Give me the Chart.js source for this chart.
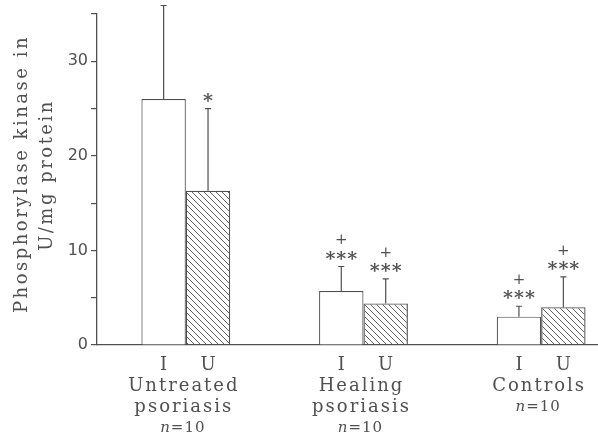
<!DOCTYPE html>
<html>
<head>
<meta charset="utf-8">
<script src="https://cdn.jsdelivr.net/npm/chart.js@4.4.1/dist/chart.umd.min.js"></script>
<style>
  html, body { margin: 0; padding: 0; background: #fff; }
  #wrap { width: 598px; height: 438px; }
</style>
</head>
<body>
<div id="wrap"><canvas id="chart"></canvas></div>
<script>
// groups along the x axis, two bars each (I and U)
const groups = [['Untreated', 'psoriasis'], ['Healing', 'psoriasis'], ['Controls']];
const groupN = [10, 10, 10];
const barLabels = ['I', 'U'];

// phosphorylase kinase, U/mg protein (mean + upper SD)
const valuesI = [26.0, 5.7, 3.0];
const valuesU = [16.3, 4.4, 4.0];
const errorI = [9.9, 2.6, 1.1];
const errorU = [8.7, 2.6, 3.2];

// significance marks above the error bars
const starsI = ['', '***', '***'];
const starsU = ['*', '***', '***'];
const plusI = ['', '+', '+'];
const plusU = ['', '+', '+'];

const yLabelTicks = [0, 10, 20, 30];
const yTitle = ['Phosphorylase kinase in', 'U/mg protein'];

const ink = '#505050';
const serif = '"DejaVu Serif", serif';

function hatch() {
  const c = document.createElement('canvas');
  c.width = 6; c.height = 6;
  const g = c.getContext('2d');
  g.strokeStyle = '#606060';
  g.lineWidth = 1;
  g.beginPath();
  g.moveTo(-1, -1); g.lineTo(7, 7);
  g.moveTo(-1, 5); g.lineTo(1, 7);
  g.moveTo(5, -1); g.lineTo(7, 1);
  g.stroke();
  return g.createPattern(c, 'repeat');
}

const ctx = document.getElementById('chart').getContext('2d');

const marks = {
  id: 'marks',
  afterDatasetsDraw(chart) {
    const c = chart.ctx;
    const y = chart.scales.y;
    const sets = [[valuesI, errorI, starsI, plusI], [valuesU, errorU, starsU, plusU]];
    c.save();
    c.strokeStyle = ink;
    c.fillStyle = ink;
    c.lineWidth = 1.2;
    sets.forEach((s, d) => {
      chart.getDatasetMeta(d).data.forEach((bar, i) => {
        const top = y.getPixelForValue(s[0][i] + s[1][i]);
        c.beginPath();
        c.moveTo(bar.x, bar.y);
        c.lineTo(bar.x, top);
        c.moveTo(bar.x - 3, top);
        c.lineTo(bar.x + 3, top);
        c.stroke();
        c.textAlign = 'center';
        c.textBaseline = 'alphabetic';
        c.letterSpacing = '1px';
        c.font = 'bold 19px ' + serif;
        if (s[2][i]) c.fillText(s[2][i], bar.x + 0.5, top - 2);
        c.letterSpacing = '0px';
        c.textBaseline = 'middle';
        c.font = '15px ' + serif;
        if (s[3][i]) c.fillText(s[3][i], bar.x, top - 26);
      });
    });
    c.restore();
  },
  afterDraw(chart) {
    const c = chart.ctx;
    const x = chart.scales.x;
    c.save();
    c.fillStyle = ink;
    c.textBaseline = 'middle';
    c.textAlign = 'center';
    c.letterSpacing = '2px';
    c.font = '18px ' + serif;
    // I / U under each bar
    [0, 1].forEach(d => {
      chart.getDatasetMeta(d).data.forEach(bar => {
        c.fillText(barLabels[d], bar.x + 1, 365);
      });
    });
    groups.forEach((lines, i) => {
      const cx = x.getPixelForValue(i + 1) - 3;
      lines.forEach((t, k) => c.fillText(t, cx + 1, 386 + k * 21));
      const ny = 386 + lines.length * 21;
      c.letterSpacing = '1px';
      c.font = 'italic 15px ' + serif;
      const wn = c.measureText('n').width;
      c.font = '15px ' + serif;
      const rest = '=' + groupN[i];
      const wr = c.measureText(rest).width;
      const left = cx - (wn + wr) / 2;
      c.textAlign = 'left';
      c.font = 'italic 15px ' + serif;
      c.fillText('n', left, ny);
      c.font = '15px ' + serif;
      c.fillText(rest, left + wn, ny);
      c.textAlign = 'center';
      c.letterSpacing = '2px';
      c.font = '18px ' + serif;
    });
    // y axis title, two rotated lines
    c.letterSpacing = '2.5px';
    c.font = '18px ' + serif;
    c.save();
    c.translate(22, 174);
    c.rotate(-Math.PI / 2);
    c.fillText(yTitle[0], 0, 0);
    c.restore();
    c.save();
    c.translate(47, 175);
    c.rotate(-Math.PI / 2);
    c.fillText(yTitle[1], 0, 0);
    c.restore();
    c.restore();
  }
};

new Chart(ctx, {
  type: 'bar',
  data: {
    datasets: [
      {
        label: 'I',
        data: valuesI.map((v, i) => ({ x: i + 1, y: v })),
        backgroundColor: '#ffffff',
        borderColor: ink,
        borderWidth: 1.2,
        borderSkipped: 'bottom'
      },
      {
        label: 'U',
        data: valuesU.map((v, i) => ({ x: i + 1, y: v })),
        backgroundColor: hatch(),
        borderColor: ink,
        borderWidth: 1.2,
        borderSkipped: 'bottom'
      }
    ]
  },
  options: {
    responsive: true,
    maintainAspectRatio: false,
    animation: false,
    categoryPercentage: 0.5,
    barPercentage: 1.0,
    layout: { padding: { top: 14, right: 0, bottom: 93, left: 0 } },
    plugins: {
      legend: { display: false },
      tooltip: { enabled: false }
    },
    scales: {
      x: {
        type: 'linear',
        min: 0.5,
        max: 3.32,
        offset: false,
        afterBuildTicks: scale => {
          scale.ticks = groups.map((g, i) => ({ value: i + 1 }));
        },
        afterFit: scale => { scale.height = 0; },
        ticks: { display: false },
        grid: { display: false },
        border: { display: true, color: ink, width: 1.3 }
      },
      y: {
        min: 0,
        max: 35,
        afterFit: scale => { scale.width = 97; },
        ticks: {
          stepSize: 5,
          padding: 3,
          color: ink,
          font: { family: '"DejaVu Sans", sans-serif', size: 16 },
          callback: v => (yLabelTicks.includes(v) ? v : '')
        },
        grid: { drawOnChartArea: false, drawTicks: true, tickLength: 6, color: ink, lineWidth: 1.2 },
        border: { display: true, color: ink, width: 1.3 }
      }
    }
  },
  plugins: [marks]
});
</script>
</body>
</html>
